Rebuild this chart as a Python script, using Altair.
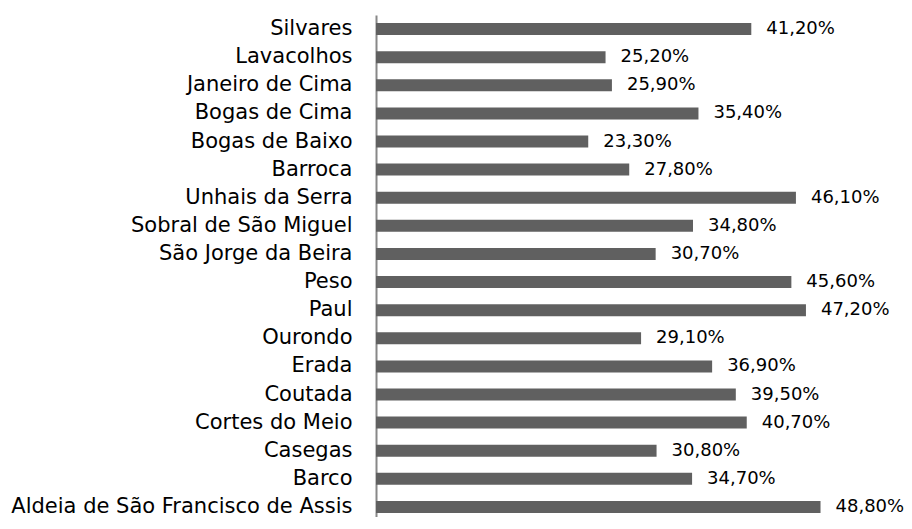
import altair as alt
import pandas as pd

categories = [
    "Silvares", "Lavacolhos", "Janeiro de Cima", "Bogas de Cima", "Bogas de Baixo",
    "Barroca", "Unhais da Serra", "Sobral de São Miguel", "São Jorge da Beira",
    "Peso", "Paul", "Ourondo", "Erada", "Coutada", "Cortes do Meio", "Casegas",
    "Barco", "Aldeia de São Francisco de Assis",
]
values = [41.2, 25.2, 25.9, 35.4, 23.3, 27.8, 46.1, 34.8, 30.7,
          45.6, 47.2, 29.1, 36.9, 39.5, 40.7, 30.8, 34.7, 48.8]

df = pd.DataFrame({
    "cat": categories,
    "val": values,
    "label": [f"{v:.2f}".replace(".", ",") + "%" for v in values],
})

FONT = "DejaVu Sans"
BAR = "#606060"

y = alt.Y("cat:N", sort=categories, title=None,
          scale=alt.Scale(range=[0, 506], paddingInner=0, paddingOuter=0),
          axis=alt.Axis(ticks=False, labelPadding=24, labelFont=FONT, labelLimit=0,
                        labelFontSize=21, labelColor="#000000",
                        domainColor="#888888", domainWidth=2, grid=False))
x = alt.X("val:Q", title=None, scale=alt.Scale(domain=[0, 55]), axis=None)

bars = alt.Chart(df).mark_bar(color=BAR, size=12).encode(y=y, x=x)
texts = alt.Chart(df).mark_text(align="left", baseline="middle", dx=15,
                                font=FONT, fontSize=18, color="#000000").encode(
    y=alt.Y("cat:N", sort=categories), x=x, text="label:N")

chart = (bars + texts).properties(
    width=501, height=502,
    autosize=alt.AutoSizeParams(type="none"),
    padding={"left": 368, "top": 7, "right": 27, "bottom": 0},
).configure_view(stroke=None)

chart.save("out.html", embed_options={"renderer": "svg", "actions": False})
